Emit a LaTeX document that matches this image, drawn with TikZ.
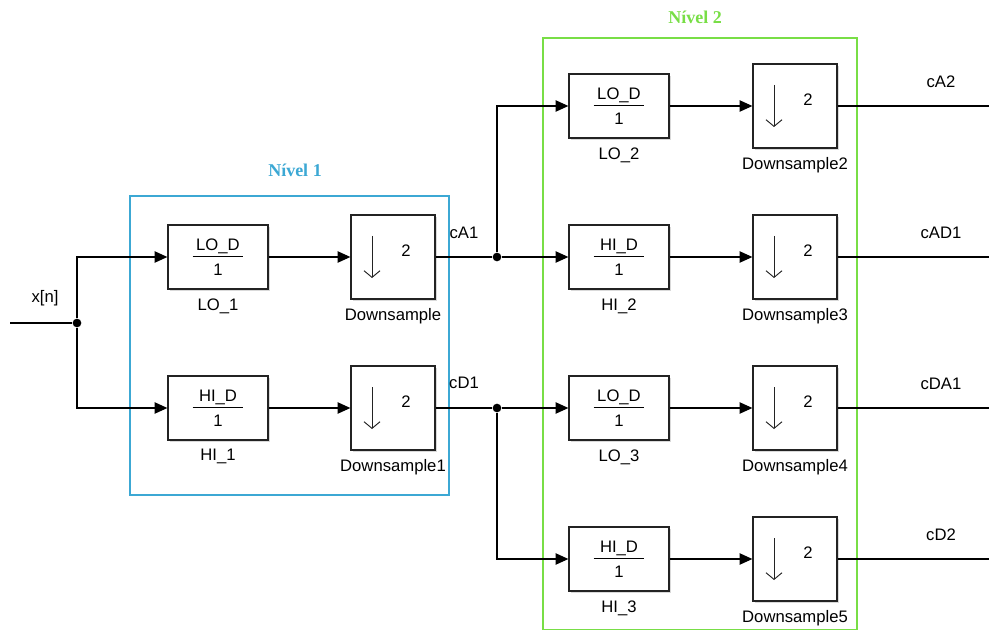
\documentclass[tikz,border=0pt]{standalone}
\usepackage{fontspec}
\setmainfont{Liberation Sans}
\newfontfamily\titlefont{Liberation Serif}
\usetikzlibrary{arrows.meta,shadows}
\definecolor{NivelBlue}{RGB}{60,168,212}
\definecolor{NivelGreen}{RGB}{120,222,70}
\definecolor{BlockGray}{RGB}{35,35,35}
\newcommand{\filtfrac}[1]{#1\\[-4.5pt]\rule[4.3pt]{38pt}{0.6pt}\\[-4.5pt]1}

\begin{document}
\begin{tikzpicture}[x=0.75pt, y=-0.75pt,
    every node/.style={font=\fontsize{12.5}{14}\selectfont},
    filt/.style={draw=BlockGray, line width=1pt, fill=white, minimum width=75pt, minimum height=48pt,
      inner sep=0pt, align=center, drop shadow={shadow xshift=1.2pt, shadow yshift=-1.2pt, opacity=0.3}},
    dsblock/.style={draw=BlockGray, line width=1pt, fill=white, minimum width=63pt, minimum height=63pt,
      drop shadow={shadow xshift=1.2pt, shadow yshift=-1.2pt, opacity=0.3},
      path picture={
        \draw[line width=0.7pt, -{Straight Barb[length=5pt,width=12pt]}]
          ([xshift=-15.75pt,yshift=15.75pt]path picture bounding box.center) -- ++(0,-31.5pt);
        \node[inner sep=0pt] at ([xshift=9.75pt,yshift=4.5pt]path picture bounding box.center) {2};}},
    lbl/.style={label distance=3pt},
    wire/.style={line width=0.8pt},
    sig/.style={line width=0.8pt, -{Triangle[length=9.5pt,width=8.5pt]}},
    junc/.style={circle, fill, inner sep=0pt, minimum size=6.5pt},
    titl/.style={font={\titlefont\fontsize{13.5}{16}\selectfont\bfseries}}]
  \useasboundingbox (0,0) rectangle (989,631);
  \draw[NivelBlue, line width=1pt] (130,196) rectangle (449,495);
  \draw[NivelGreen, line width=1pt] (543,38) rectangle (857,629.5);
  \node[titl, NivelBlue] (nivel1) at (295,170) {Nível 1};
  \node[titl, NivelGreen] (nivel2) at (695,17) {Nível 2};

  \coordinate (xin) at (10,323);
  \node[junc] (s0) at (77,323) {};
  \node (xn) at (45,298) {x[n]};

  \node[filt, label={[lbl]below:LO\_1}] (lo1) at (218,257) {\filtfrac{LO\_D}};
  \node[filt, label={[lbl]below:HI\_1}] (hi1) at (218,408) {\filtfrac{HI\_D}};
  \node[dsblock, label={[lbl]below:Downsample}] (ds0) at (393,257) {};
  \node[dsblock, label={[lbl]below:Downsample1}] (ds1) at (393,408) {};

  \node[junc] (s1) at (497,257) {};
  \node[junc] (s2) at (497,408) {};
  \node (ca1) at (464,233) {cA1};
  \node (cd1) at (464,383) {cD1};

  \node[filt, label={[lbl]below:LO\_2}] (lo2) at (619,106) {\filtfrac{LO\_D}};
  \node[filt, label={[lbl]below:HI\_2}] (hi2) at (619,257) {\filtfrac{HI\_D}};
  \node[filt, label={[lbl]below:LO\_3}] (lo3) at (619,408) {\filtfrac{LO\_D}};
  \node[filt, label={[lbl]below:HI\_3}] (hi3) at (619,559) {\filtfrac{HI\_D}};
  \node[dsblock, label={[lbl]below:Downsample2}] (ds2) at (795,106) {};
  \node[dsblock, label={[lbl]below:Downsample3}] (ds3) at (795,257) {};
  \node[dsblock, label={[lbl]below:Downsample4}] (ds4) at (795,408) {};
  \node[dsblock, label={[lbl]below:Downsample5}] (ds5) at (795,559) {};

  \draw[wire] (xin) -- (s0);
  \draw[sig] (s0) |- (lo1.west);
  \draw[sig] (s0) |- (hi1.west);
  \draw[sig] (lo1) -- (ds0);
  \draw[sig] (hi1) -- (ds1);
  \draw[wire] (ds0) -- (s1);
  \draw[wire] (ds1) -- (s2);
  \draw[sig] (s1) |- (lo2.west);
  \draw[sig] (s1) -- (hi2);
  \draw[sig] (s2) -- (lo3);
  \draw[sig] (s2) |- (hi3.west);
  \foreach \a/\b in {lo2/ds2, hi2/ds3, lo3/ds4, hi3/ds5}
    \draw[sig] (\a) -- (\b);

  \foreach \b/\y/\t in {ds2/106/cA2, ds3/257/cAD1, ds4/408/cDA1, ds5/559/cD2} {
    \coordinate (out\b) at (989,\y);
    \draw[wire] (\b) -- (out\b);
    \node (lbl\b) at (941,\y-24) {\t};
  }
\end{tikzpicture}
\end{document}
